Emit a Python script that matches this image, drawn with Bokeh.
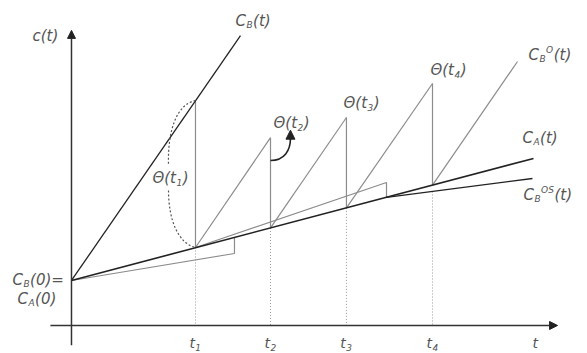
from bokeh.plotting import figure
from bokeh.models import Range1d, Arrow, NormalHead
from bokeh.core.properties import value
from bokeh.embed import file_html
from bokeh.resources import INLINE

# ---- data (t: time units, c: cost units) ----
c0 = 0.726
t_marks = [2.0, 3.21, 4.435, 5.823]           # t1..t4
tick_subs = ["1", "2", "3", "4"]
ca_t = [0.0, 7.452]                            # C_A(t)
ca_c = [0.726, 2.694]
cb_t = [0.0, 2.726]                            # C_B(t)
cb_c = [0.726, 4.677]
ca_at_marks = [1.258, 1.573, 1.897, 2.263]     # C_A(t_i)
cb_at_t1 = 3.629                               # C_B(t1)
theta_peaks = [3.03, 3.355, 3.903]             # sawtooth peaks at t2, t3, t4
cbo_end_t, cbo_end_c = 7.194, 4.258            # end of C_B^O(t)
os_low_t = [0.0, 2.629, 2.629]
os_low_c = [0.726, 1.161, 1.41]
os_up_t = [2.0, 5.081, 5.081]
os_up_c = [1.258, 2.306, 2.065]
cbos_t = [5.081, 7.435]                        # C_B^OS(t) tail
cbos_c = [2.065, 2.371]
cbos_at_t4 = 2.161

BLACK = "#222222"
GRAY = "#8c8c8c"
DOT = "#9a9a9a"
TXT = "#555555"

p = figure(width=587, height=353, output_backend="svg", toolbar_location=None,
           x_range=Range1d(-1.145, 8.323), y_range=Range1d(-0.452, 5.242),
           x_axis_type=None, y_axis_type=None, min_border=0)
p.grid.visible = False
p.outline_line_color = None
p.background_fill_color = "white"

# axes
p.add_layout(Arrow(end=NormalHead(size=8, fill_color=BLACK, line_color=BLACK),
                   x_start=0, y_start=-0.32, x_end=0, y_end=4.76,
                   line_color="#333333", line_width=1.5))
p.add_layout(Arrow(end=NormalHead(size=8, fill_color=BLACK, line_color=BLACK),
                   x_start=-0.34, y_start=0, x_end=7.84, y_end=0,
                   line_color="#333333", line_width=1.5))

# dotted verticals down to the t axis
p.segment(x0=t_marks, y0=ca_at_marks[:3] + [cbos_at_t4], x1=t_marks, y1=[0] * 4,
          line_color=DOT, line_width=1, line_dash="1 2")

# gray sawtooth C_B^O(t)
p.segment(x0=t_marks, y0=ca_at_marks, x1=t_marks[1:] + [cbo_end_t],
          y1=theta_peaks + [cbo_end_c], line_color=GRAY, line_width=1.2)
p.segment(x0=t_marks, y0=ca_at_marks, x1=t_marks, y1=[cb_at_t1] + theta_peaks,
          line_color=GRAY, line_width=1.2)

# gray polygons around C_A
p.line(os_low_t, os_low_c, line_color=GRAY, line_width=1.2)
p.line(os_up_t, os_up_c, line_color=GRAY, line_width=1.2)

# black lines
p.line(cb_t, cb_c, line_color=BLACK, line_width=1.3)
p.line(ca_t, ca_c, line_color=BLACK, line_width=1.6)
p.line(cbos_t, cbos_c, line_color=BLACK, line_width=1.3)

# dotted theta(t1) brace
p.bezier(x0=[2.0, 1.565], y0=[3.629, 2.177], x1=[1.565, 2.0], y1=[2.581, 1.258],
         cx0=[1.694, 1.565], cy0=[3.565, 1.694], cx1=[1.548, 1.726], cy1=[3.145, 1.323],
         line_color="#555555", line_width=1.2, line_dash="2 2")

# curved arrow theta(t2)
p.bezier(x0=[3.21], y0=[2.661], x1=[3.532], y1=[3.02],
         cx0=[3.435], cy0=[2.661], cx1=[3.532], cy1=[2.823],
         line_color=BLACK, line_width=1.6)
p.add_layout(Arrow(end=NormalHead(size=9, fill_color=BLACK, line_color=BLACK),
                   x_start=3.532, y_start=3.0, x_end=3.532, y_end=3.15,
                   line_color=BLACK, line_width=1.6))

# ---- text ----
W = {"C": 0.698, "c": 0.55, "t": 0.392, "(": 0.39, ")": 0.39, "0": 0.636,
     "=": 0.838, "Θ": 0.787, "B": 0.686, "A": 0.684, "O": 0.787, "S": 0.635,
     "1": 0.636, "2": 0.636, "3": 0.636, "4": 0.636}
SIZE = {"n": 15, "sub": 9, "sup": 9}
DY = {"n": 0, "sub": 4, "sup": -5}


def label(t, c, pieces, align="left", size=15):
    sizes = dict(SIZE, n=size)
    widths = [sum(W.get(ch, 0.6) for ch in s) * sizes[r] + 0.5 for s, r in pieces]
    x = 0 if align == "left" else -sum(widths) / 2
    for (s, r), w in zip(pieces, widths):
        p.text(x=[t], y=[c], text=[s], x_offset=x, y_offset=DY[r],
               text_font=value("DejaVu Sans"), text_font_size=f"{sizes[r]}px",
               text_font_style="italic", text_color=TXT,
               text_align="left", text_baseline="middle")
        x += w


label(-0.629, 4.677, [("c(t)", "n")])
label(2.645, 4.919, [("C", "n"), ("B", "sub"), ("(t)", "n")])
label(7.371, 4.355, [("C", "n"), ("B", "sub"), ("O", "sup"), ("(t)", "n")])
label(7.274, 3.032, [("C", "n"), ("A", "sub"), ("(t)", "n")])
label(7.290, 2.097, [("C", "n"), ("B", "sub"), ("OS", "sup"), ("(t)", "n")])
label(-0.952, 0.726, [("C", "n"), ("B", "sub"), ("(0)=", "n")])
label(-0.871, 0.435, [("C", "n"), ("A", "sub"), ("(0)", "n")])

theta_pos = [(1.306, 2.371), (3.258, 3.258), (4.387, 3.581), (5.790, 4.113)]
for (tx, cy), s in zip(theta_pos, tick_subs):
    label(tx, cy, [("Θ(t", "n"), (s, "sub"), (")", "n")])

for tm, s in zip(t_marks, tick_subs):
    label(tm, -0.29, [("t", "n"), (s, "sub")], align="center", size=14)
label(7.484, -0.29, [("t", "n")], align="center", size=14)

open("out.html", "w").write(file_html(p, INLINE))
